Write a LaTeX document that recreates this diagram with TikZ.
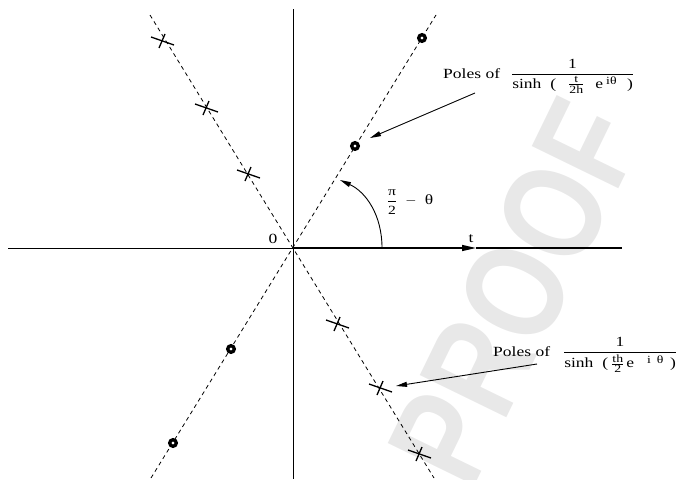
\documentclass[tikz,border=0pt]{standalone}
\usepackage{amsmath}
\usepackage{fontspec}
\setmainfont{Liberation Serif}[FakeStretch=1.25]
\newfontfamily\markfont{Liberation Sans}[FakeStretch=0.8]
\usepackage{tikz}
\usetikzlibrary{arrows.meta}
\newcommand{\fractxt}[1]{\mbox{\fontsize{11}{11}\selectfont #1}}

\begin{document}
\begin{tikzpicture}[x=1pt, y=-1pt, every node/.style={font=\fontsize{14}{16}\selectfont, inner sep=0pt}, >={Triangle[length=11pt,width=5pt]},
	ray/.style={dash pattern=on 4pt off 3.5pt, line width=0.8pt},
	polex/.pic={\draw[line width=1.3pt] (-11,-4) -- (12,4); \draw[line width=1.3pt] (-3,7) -- (3,-7);},
	poleo/.pic={\draw[line width=3.3pt, fill=white] (0,0) circle[radius=3.3];}]
	\useasboundingbox (0,0) rectangle (682,479);
	\node[text=black!9, font=\markfont\bfseries\fontsize{140}{140}\selectfont, rotate=64] (proof) at (515,292) {PROOF};
	\coordinate (O) at (293,248);
	\coordinate (ulEnd) at (150,15); \coordinate (lrEnd) at (434,478);
	\coordinate (llEnd) at (151,478); \coordinate (urEnd) at (436,15);
	\coordinate (xL) at (8,248); \coordinate (xR) at (622,248); \coordinate (tTip) at (476,248);
	\coordinate (yT) at (293,9); \coordinate (yB) at (293,479);
	\draw[line width=0.9pt] (xL) -- (O);
	\draw[line width=1.4pt, -{Triangle[length=14pt,width=6pt]}] (O) -- (tTip);
	\draw[line width=1.4pt] (tTip) -- (xR);
	\draw[line width=0.9pt] (yT) -- (yB);
	\draw[ray] (ulEnd) -- (lrEnd);
	\draw[ray] (llEnd) -- (urEnd);
	\foreach \px/\py [count=\i] in {162/41, 206/108, 248/174, 337/324, 380/388, 419/454} {
		\coordinate (x\i) at (\px,\py);
		\pic at (x\i) {polex};
	}
	\foreach \px/\py [count=\i] in {422/38, 355/146, 231/349, 173/443} {
		\coordinate (o\i) at (\px,\py);
		\pic at (o\i) {poleo};
	}
	\node (zero) at (273,239) {0};
	\node (tlab) at (471,239) {t};
	\coordinate (arcS) at (382,248); \coordinate (arcE) at (340,180);
	\draw[line width=0.9pt, ->] (arcS) .. controls (382,215) and (366,192) .. (arcE);
	\node (ang) at (410,202) {$\dfrac{\mbox{\fontsize{12.5}{13}\selectfont π}}{\mbox{\fontsize{12.5}{13}\selectfont 2}}\hspace{5pt}-\hspace{5pt}\text{θ}$};
	\node[anchor=base west] (polesA) at (443,78) {Poles of\hspace{11pt}$\dfrac{\text{1}}{\text{sinh\hspace{9pt}(}\hspace{12pt}\frac{\fractxt{t}}{\fractxt{2h}}\hspace{11pt}\text{e}^{\hspace{3pt}\fractxt{iθ}}\hspace{10pt}\text{)}}$};
	\node[anchor=base west] (polesB) at (493,356) {Poles of\hspace{13pt}$\dfrac{\text{1}}{\text{sinh\hspace{9pt}(}\hspace{3pt}\frac{\fractxt{th}}{\fractxt{2}}\hspace{2pt}\text{e}^{\hspace{13pt}\fractxt{i}\hspace{6pt}\fractxt{θ}}\hspace{6pt}\text{)}}$};
	\draw[line width=0.9pt, ->] ([shift={(32,15)}]polesA.base west) -- ([shift={(15,-8)}]o2);
	\draw[line width=0.9pt, ->] ([shift={(44,8)}]polesB.base west) -- ([shift={(16,-2)}]x5);
\end{tikzpicture}
\end{document}
